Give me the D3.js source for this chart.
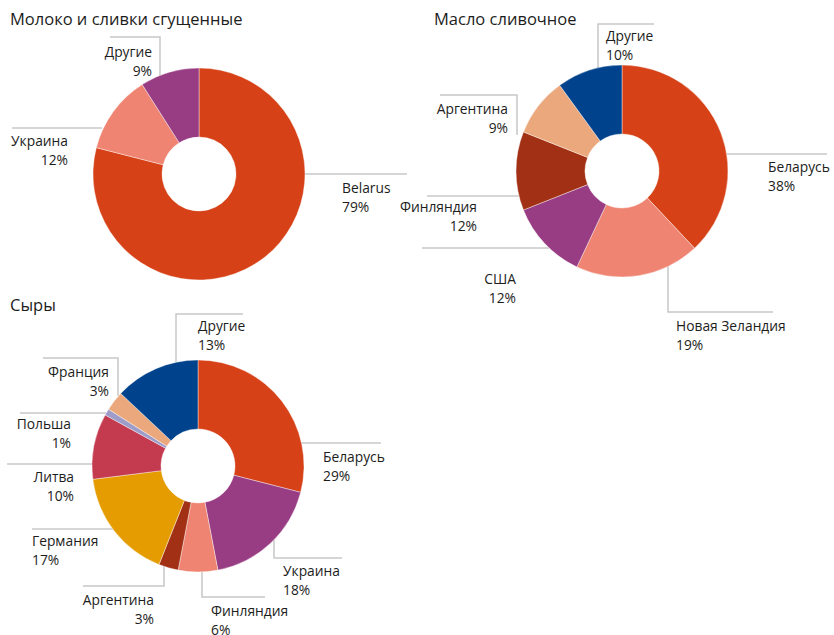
<!DOCTYPE html>
<html>
<head>
<meta charset="utf-8">
<script src="https://cdn.jsdelivr.net/npm/d3@7"></script>
<style>
  body { margin: 0; background: #fff; }
  svg { font-family: "Open Sans", sans-serif; }
  .title { font-size: 16.5px; fill: #1d1d1b; }
  .lbl { font-size: 13.8px; fill: #1d1d1b; }
  .leader { fill: none; stroke: #c8c8c8; stroke-width: 1.5; }
</style>
</head>
<body>
<script>
// data
var milkNames = ["Belarus", "Украина", "Другие"];
var milkValues = [79, 12, 9];
var milkColors = ["#d64117", "#ee8471", "#983c83"];

var butterNames = ["Беларусь", "Новая Зеландия", "США", "Финляндия", "Аргентина", "Другие"];
var butterValues = [38, 19, 12, 12, 9, 10];
var butterColors = ["#d64117", "#ee8471", "#983c83", "#a13015", "#eba87c", "#00428b"];

var cheeseNames = ["Беларусь", "Украина", "Финляндия", "Аргентина", "Германия", "Литва", "Польша", "Франция", "Другие"];
var cheeseValues = [29, 18, 6, 3, 17, 10, 1, 3, 13];
var cheeseColors = ["#d64117", "#983c83", "#ee8471", "#a13015", "#e49c00", "#c43a4f", "#9e9dc9", "#eba87c", "#00428b"];

var width = 834,
    height = 635;

var svg = d3.select("body").append("svg")
    .attr("width", width)
    .attr("height", height);

var outerR = 106, innerR = 37;

var pie = d3.pie().sort(null).value(d => d.value);
var arc = d3.arc().innerRadius(innerR).outerRadius(outerR);

// label placement relative to each pie centre: text anchor point and leader polyline
var milkLayout = [
    {x: 143, y: 19, a: "start", line: [[106, 0], [208, 0]]},
    {x: -131, y: -28, a: "end", line: [[-97, -46], [-187, -46]]},
    {x: -47, y: -117, a: "end", line: [[-39, -98], [-39, -137], [-89, -137]]}
];
var butterLayout = [
    {x: 146, y: 1, a: "start", line: [[105, -17], [205, -17]]},
    {x: 54, y: 160, a: "start", line: [[46, 95], [46, 141], [151, 141]]},
    {x: -106, y: 113, a: "end", line: [[-73, 77], [-200, 77]]},
    {x: -145, y: 41, a: "end", line: [[-103, 25], [-195, 25]]},
    {x: -114, y: -57, a: "end", line: [[-105, -36], [-105, -76], [-182, -76]]},
    {x: -16, y: -130, a: "start", line: [[-24, -103], [-24, -147], [32, -147]]}
];
var cheeseLayout = [
    {x: 125, y: -4, a: "start", line: [[103, -23], [183, -23]]},
    {x: 85, y: 110, a: "start", line: [[76, 74], [76, 92], [144, 92]]},
    {x: 13, y: 150, a: "start", line: [[4, 106], [4, 131], [67, 131]]},
    {x: -44, y: 139, a: "end", line: [[-34, 100], [-34, 120], [-115, 120]]},
    {x: -166, y: 80, a: "start", line: [[-85, 63], [-166, 63]]},
    {x: -124, y: 16, a: "end", line: [[-106, -2], [-191, -2]]},
    {x: -127, y: -37, a: "end", line: [[-92, -53], [-178, -53]]},
    {x: -89, y: -89, a: "end", line: [[-80, -70], [-80, -108], [-155, -108]]},
    {x: 0, y: -135, a: "start", line: [[-22, -104], [-22, -152], [45, -152]]}
];

var charts = [
    {title: "Молоко и сливки сгущенные", tx: 10, ty: 25, cx: 199, cy: 174, names: milkNames, values: milkValues, colors: milkColors, layout: milkLayout},
    {title: "Масло сливочное", tx: 434, ty: 25, cx: 622, cy: 171, names: butterNames, values: butterValues, colors: butterColors, layout: butterLayout},
    {title: "Сыры", tx: 10, ty: 311, cx: 198, cy: 466, names: cheeseNames, values: cheeseValues, colors: cheeseColors, layout: cheeseLayout}
];

var line = d3.line();

charts.forEach(function (c) {
    svg.append("text")
        .attr("class", "title")
        .attr("x", c.tx)
        .attr("y", c.ty)
        .text(c.title);

    var rows = c.names.map((n, i) => ({name: n, value: c.values[i], color: c.colors[i]}));
    var g = svg.append("g").attr("transform", "translate(" + c.cx + "," + c.cy + ")");

    g.selectAll("path.leader")
        .data(c.layout)
        .enter().append("path")
        .attr("class", "leader")
        .attr("d", d => line(d.line));

    g.selectAll("path.slice")
        .data(pie(rows))
        .enter().append("path")
        .attr("class", "slice")
        .attr("d", arc)
        .attr("fill", d => d.data.color)
        .attr("stroke", "#fff")
        .attr("stroke-width", 0.4);

    var labels = g.selectAll("text.lbl")
        .data(rows)
        .enter().append("text")
        .attr("class", "lbl")
        .attr("text-anchor", (d, i) => c.layout[i].a)
        .attr("x", (d, i) => c.layout[i].x)
        .attr("y", (d, i) => c.layout[i].y);

    labels.append("tspan").text(d => d.name);
    labels.append("tspan")
        .attr("x", (d, i) => c.layout[i].x)
        .attr("dy", 19)
        .text(d => d.value + "%");
});
</script>
</body>
</html>
